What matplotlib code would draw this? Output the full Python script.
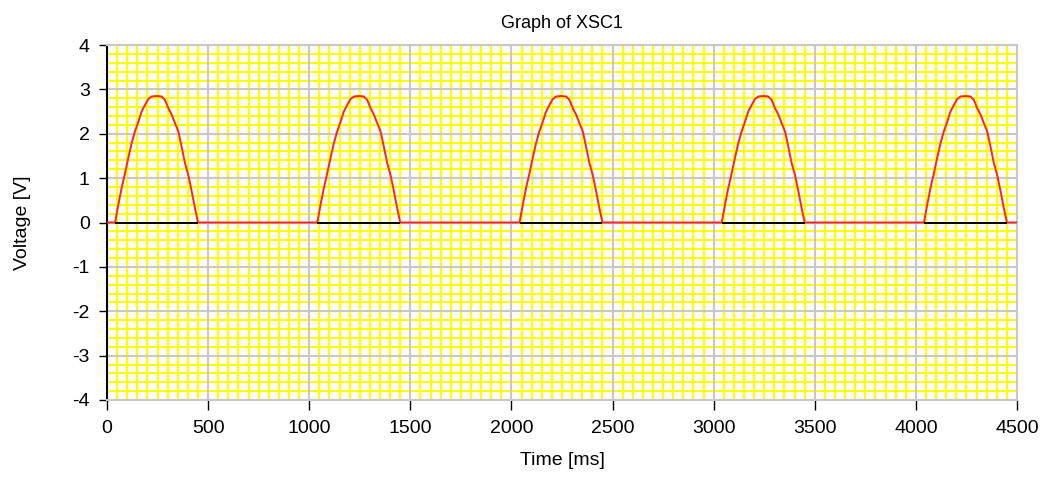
import matplotlib
matplotlib.use("Agg")
import matplotlib.pyplot as plt
from matplotlib.ticker import MultipleLocator

# one half-wave pulse (time in ms relative to each period start, volts)
pulse_t = [40, 56, 72, 89, 105, 122, 138, 155, 171, 188, 204, 221, 245, 270,
           287, 303, 320, 336, 353, 369, 385, 402, 419, 435, 450]
pulse_v = [0.0, 0.40, 0.77, 1.11, 1.45, 1.79, 2.05, 2.27, 2.50, 2.65, 2.78, 2.84, 2.85, 2.84,
           2.76, 2.58, 2.43, 2.24, 2.05, 1.71, 1.35, 1.07, 0.70, 0.32, 0.0]
pulse_starts = [0, 1000, 2000, 3000, 4000]

t_range = [0, 4500]
v_range = [-4, 4]

plt.rcParams["font.family"] = ["Liberation Sans", "DejaVu Sans"]
plt.rcParams["axes.unicode_minus"] = False

# red trace: zero between pulses, pulse shape at each period
t_red = [t_range[0]]
v_red = [0.0]
for t0 in pulse_starts:
    t_red += [t0 + t for t in pulse_t]
    v_red += pulse_v
t_red.append(t_range[1])
v_red.append(0.0)

fig = plt.figure(figsize=(10.42, 4.78), dpi=100)
ax = fig.add_axes([107 / 1042, 1 - 400 / 478, 910 / 1042, 355 / 478])

ax.set_xlim(t_range)
ax.set_ylim(v_range)
ax.xaxis.set_major_locator(MultipleLocator(500))
ax.xaxis.set_minor_locator(MultipleLocator(50))
ax.yaxis.set_major_locator(MultipleLocator(1))
ax.yaxis.set_minor_locator(MultipleLocator(0.2))

# fine yellow grid underneath, gray major lines on top of it
ax.grid(which="minor", color="#ffff00", linewidth=1.5)
ax.set_axisbelow(True)
ax.vlines(ax.get_xticks(), v_range[0], v_range[1], color="#c8c8c8", linewidth=1.5, zorder=2)
ax.hlines(ax.get_yticks(), t_range[0], t_range[1], color="#c8c8c8", linewidth=1.5, zorder=2)

ax.plot(t_red, v_red, color="#ff2020", linewidth=1.4, zorder=3)
for t0 in pulse_starts:
    ax.hlines(0, t0 + pulse_t[0], t0 + pulse_t[-1], color="black", linewidth=1.4, zorder=4)

for side in ["top", "right", "bottom"]:
    ax.spines[side].set_color("#c8c8c8")
    ax.spines[side].set_linewidth(1.5)
ax.spines["left"].set_color("black")
ax.spines["left"].set_linewidth(1.5)

ax.tick_params(which="minor", length=0)
ax.tick_params(axis="y", which="major", direction="out", length=5.5, width=1,
               pad=7, labelsize=14, color="black")
ax.tick_params(axis="x", which="major", direction="out", length=7, width=1,
               pad=7.5, labelsize=14, color="black")

ax.set_title("Graph of XSC1", fontsize=13, pad=12)
ax.set_xlabel("Time [ms]", fontsize=14)
ax.set_ylabel("Voltage [V]", fontsize=14)
ax.xaxis.set_label_coords(0.5, -0.146)
ax.yaxis.set_label_coords(-0.083, 0.5)

fig.savefig("out.png", dpi=100)
